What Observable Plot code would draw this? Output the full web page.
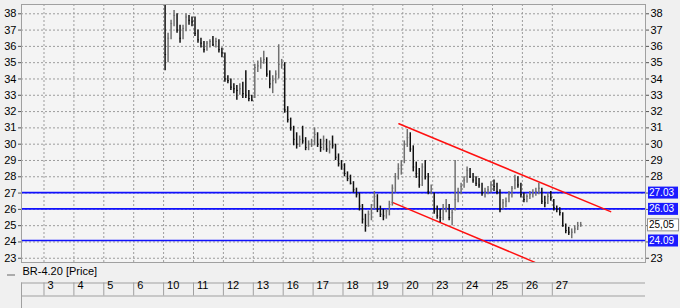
<!DOCTYPE html>
<html><head><meta charset="utf-8">
<script src="https://cdn.jsdelivr.net/npm/d3@7"></script>
<script src="https://cdn.jsdelivr.net/npm/@observablehq/plot@0.6"></script>
<style>html,body{margin:0;padding:0;background:#f0f0f0;}</style>
</head><body><div id="chart"></div>
<script>
// x-axis day labels (one slot per trading day)
const dayLabels = ["3","4","5","6","10","11","12","13","16","17","18","19","20","23","24","25","26","27"];
const firstTradedSlot = 4;   // data begins on day "10"
const barsPerDay = 10;

// intraday bars, 10 per day, days 10 .. 27
const barHigh = [
  38.9,36.8,37.6,38.2,38.0,37.3,37.3,38.0,37.9,37.8,
  37.8,37.0,36.5,36.3,36.3,36.4,36.6,36.5,36.4,35.9,
  35.6,34.2,34.0,33.7,33.6,33.7,33.8,34.5,33.3,33.0,
  34.9,35.1,35.3,35.7,35.3,34.5,34.2,34.5,36.1,35.2,
  35.0,32.3,31.6,31.1,30.7,30.5,31.1,30.4,30.2,30.3,
  31.0,30.7,30.3,30.5,30.3,30.2,30.5,30.0,29.4,29.0,
  28.8,28.3,28.1,27.7,27.3,27.0,26.3,25.7,25.9,26.3,
  27.1,26.9,26.2,26.0,26.0,26.5,27.5,28.2,28.8,29.0,
  30.2,30.9,30.7,29.9,28.9,28.5,28.8,29.0,28.2,27.5,
  27.0,26.2,26.0,26.3,26.6,26.3,26.0,29.0,27.3,27.6,
  28.0,28.6,28.5,28.2,28.0,27.9,27.6,27.3,27.4,27.7,
  27.8,27.6,27.2,26.6,26.7,27.1,27.4,28.1,28.0,27.6,
  27.0,26.9,27.1,27.2,27.3,27.6,27.3,26.8,27.0,27.1,
  26.6,26.2,26.1,25.8,25.1,24.9,24.8,25.0,25.2,25.2
];
const barLow = [
  34.5,35.0,36.4,37.2,36.8,36.2,36.4,36.9,37.3,37.2,
  36.6,36.2,35.9,35.6,35.7,35.9,36.0,35.9,35.6,35.3,
  33.8,33.7,33.3,33.1,32.7,33.0,32.8,32.8,32.6,32.6,
  32.8,34.4,34.6,34.9,34.1,33.4,33.1,33.7,34.0,34.6,
  31.9,31.3,30.8,29.9,29.7,29.8,30.0,29.6,29.6,29.8,
  29.9,29.8,29.5,29.6,29.5,29.4,29.7,29.0,28.6,28.4,
  28.0,27.7,27.5,27.0,26.7,25.9,25.1,24.6,24.9,25.3,
  26.0,25.8,25.5,25.3,25.4,25.6,26.2,27.0,27.8,28.1,
  28.8,29.8,29.5,28.3,27.9,27.3,27.4,27.8,26.9,26.9,
  25.7,25.4,25.2,25.3,25.8,25.3,25.0,25.9,26.4,26.9,
  27.3,27.6,27.9,27.6,27.4,27.3,26.8,26.7,26.9,27.0,
  27.1,26.9,25.8,26.0,26.1,26.4,26.7,27.2,27.3,26.7,
  26.4,26.4,26.6,26.7,26.8,26.9,26.3,26.1,26.3,26.5,
  25.9,25.8,25.6,24.9,24.5,24.4,24.2,24.5,24.7,24.9
];
const barClose = [
  35.5,36.5,37.4,37.9,37.0,36.5,37.1,37.8,37.6,37.5,
  36.8,36.4,36.2,35.8,36.2,36.3,36.1,36.3,35.8,35.6,
  34.0,33.9,33.5,33.4,33.3,33.4,33.1,33.0,32.8,32.7,
  34.7,34.8,35.1,35.2,34.3,33.7,33.9,34.3,34.9,35.0,
  32.1,31.5,31.0,30.3,30.0,30.3,30.2,29.8,30.0,30.0,
  30.6,30.0,29.8,30.2,29.7,30.0,29.9,29.2,28.8,28.6,
  28.2,27.9,27.6,27.2,26.9,26.2,25.4,25.0,25.7,26.0,
  26.8,26.0,25.7,25.6,25.9,26.3,27.3,28.0,28.5,28.7,
  30.0,30.4,29.7,28.6,28.2,27.5,28.6,28.0,27.1,27.1,
  25.9,25.6,25.5,26.0,26.1,25.5,25.8,26.6,27.1,27.4,
  27.8,28.4,28.0,27.8,27.6,27.5,27.0,27.1,27.2,27.5,
  27.4,27.1,26.0,26.4,26.5,26.9,27.3,27.8,27.5,26.9,
  26.6,26.8,26.9,27.0,27.1,27.3,26.5,26.4,26.8,26.7,
  26.1,26.0,25.8,25.0,24.7,24.6,24.6,24.8,25.0,25.05
];

// horizontal levels and labels
const levels = [27.03, 26.03, 24.09];
const levelLabels = ["27.03", "26.03", "24.09"];
const lastPrice = 25.05;
const lastPriceLabel = "25,05";
const yTicks = [23,24,25,26,27,28,29,30,31,32,33,34,35,36,37,38];
const rightHidden = [24, 25, 26, 27]; // covered by the level / price boxes

// red channel lines (time in day slots, price)
const upperChannelT = [11.87, 18.95];
const upperChannelP = [31.25, 25.86];
const lowerChannelT = [11.65, 16.42];
const lowerChannelP = [26.43, 22.75];

const seriesName = "BR-4.20 [Price]";

// ---- build tables ----
const bars = barHigh.map((h, i) => ({
  t: firstTradedSlot + Math.floor(i / barsPerDay) + ((i % barsPerDay) + 0.5) / barsPerDay,
  high: h, low: barLow[i], close: barClose[i],
  color: (i > 0 && barClose[i] >= barClose[i - 1]) ? "#707070" : "#101010"
}));
const levelData = levels.map((v, i) => ({v, label: levelLabels[i]}));
const upper = upperChannelT.map((t, i) => ({t, p: upperChannelP[i]}));
const lower = lowerChannelT.map((t, i) => ({t, p: lowerChannelP[i]}));
const boundaries = dayLabels.map((d, i) => i);

const xDomain = [-0.7525, 20.117];
const yDomain = [22.74, 38.57];
const font = "'Liberation Sans', Arial, sans-serif";
const grid = {stroke: "#9c9c9c", strokeOpacity: 1, strokeDasharray: "2,2", strokeWidth: 1};

const chart = Plot.plot({
  width: 680, height: 308,
  marginLeft: 21, marginRight: 35, marginTop: 4, marginBottom: 46,
  style: {background: "#f0f0f0", fontFamily: font, fontSize: "11px", color: "#000", overflow: "visible"},
  x: {domain: xDomain, axis: null},
  y: {domain: yDomain, axis: null},
  color: {type: "identity"},
  marks: [
    Plot.frame({fill: "#f4f4f4", stroke: null}),
    Plot.gridY(yTicks, grid),
    Plot.gridX(boundaries, grid),
    Plot.ruleY(levels, {stroke: "#1010ff", strokeWidth: 1.7}),
    Plot.line(upper, {x: "t", y: "p", stroke: "#ff1010", strokeWidth: 1.5, clip: true}),
    Plot.line(lower, {x: "t", y: "p", stroke: "#ff1010", strokeWidth: 1.5, clip: true}),
    Plot.ruleX(bars, {x: "t", y1: "low", y2: "high", stroke: "color", strokeWidth: 1.5, clip: true}),
    Plot.ruleY(bars, {y: "close", x1: "t", x2: d => d.t + 0.05, stroke: "color", strokeWidth: 1, clip: true}),
    Plot.frame({stroke: "#a0a0a0"}),
    Plot.axisY(yTicks, {anchor: "left", tickSize: 3, tickPadding: 2, tickFormat: d => String(d), fontSize: 11, stroke: "#555"}),
    Plot.axisY(yTicks, {anchor: "right", tickSize: 3, tickPadding: 2, tickFormat: d => rightHidden.includes(d) ? "" : String(d), fontSize: 11, stroke: "#555"}),
    // level label boxes on the right
    Plot.ruleY(levelData, {y: "v", stroke: "#1a1aff", strokeWidth: 12, insetLeft: 627, insetRight: -33}),
    Plot.text(levelData, {y: "v", text: "label", frameAnchor: "right", dx: 3.5, textAnchor: "start", fill: "white", fontSize: 10}),
    Plot.ruleY([lastPrice], {stroke: "#909090", strokeWidth: 13, insetLeft: 626, insetRight: -34}),
    Plot.ruleY([lastPrice], {stroke: "#ffffff", strokeWidth: 11, insetLeft: 627, insetRight: -33}),
    Plot.text([lastPriceLabel], {y: lastPrice, frameAnchor: "right", dx: 3.5, textAnchor: "start", fill: "#000", fontSize: 10}),
    // legend row
    Plot.ruleY([yDomain[0]], {dy: 12.5, insetLeft: -14, insetRight: 630, stroke: "#666", strokeWidth: 1}),
    Plot.text([seriesName], {frameAnchor: "bottom-left", dx: 1, dy: 12, textAnchor: "start", fill: "#000", fontSize: 11}),
    // date strip
    Plot.ruleY([yDomain[0]], {dy: 20.5, stroke: "#a0a0a0"}),
    Plot.ruleY([yDomain[0]], {dy: 33.5, stroke: "#a0a0a0"}),
    Plot.ruleX(boundaries, {insetTop: 278.5, insetBottom: -33.5, stroke: "#a0a0a0"}),
    Plot.ruleX([xDomain[0]], {insetTop: 278.5, insetBottom: -46, stroke: "#a0a0a0"}),
    Plot.text(dayLabels, {x: (d, i) => i, frameAnchor: "bottom", dx: 3.5, dy: 26.5, textAnchor: "start", fill: "#000", fontSize: 11})
  ]
});
document.getElementById("chart").appendChild(chart);
</script>
</body></html>
